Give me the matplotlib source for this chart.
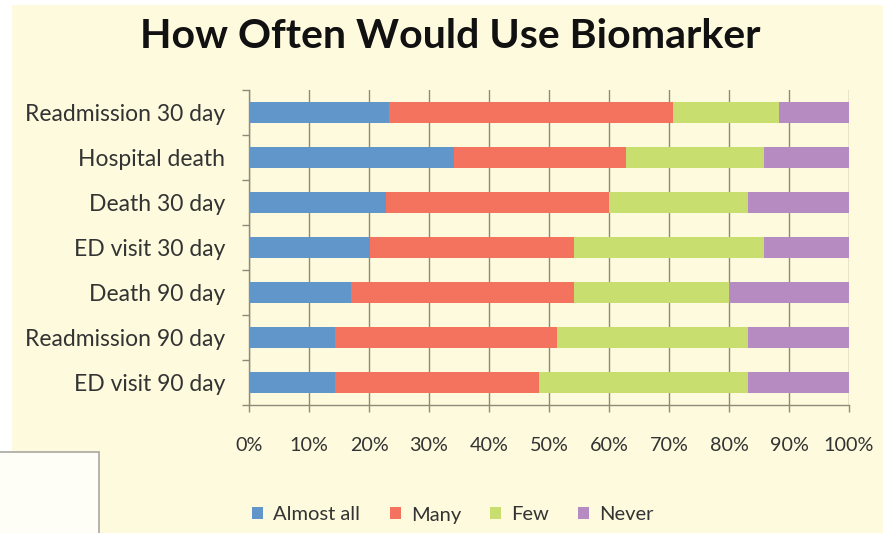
import matplotlib
matplotlib.use("Agg")
import matplotlib.pyplot as plt
from matplotlib.patches import Rectangle
from matplotlib.ticker import FixedLocator, PercentFormatter
import numpy as np

categories = ["Readmission 30 day", "Hospital death", "Death 30 day", "ED visit 30 day",
              "Death 90 day", "Readmission 90 day", "ED visit 90 day"]
series_names = ["Almost all", "Many", "Few", "Never"]
almost_all = [23.3, 34.2, 22.8, 20.1, 17.0, 14.3, 14.3]
many = [47.3, 28.7, 37.2, 34.1, 37.2, 37.0, 34.0]
few = [17.8, 23.0, 23.1, 31.7, 25.8, 31.8, 34.8]
never = [11.6, 14.1, 16.9, 14.1, 20.0, 16.9, 16.9]
x_ticks = [0, 10, 20, 30, 40, 50, 60, 70, 80, 90, 100]
colors = ["#6196CB", "#F4735F", "#C8DE6E", "#B68BC2"]

plt.rcParams['font.family'] = ['Lato', 'DejaVu Sans']
fig = plt.figure(figsize=(8.83, 5.33), dpi=100, facecolor="white")
bg = "#FDFADD"
fig.patches.append(Rectangle((12/883, 0), 1 - 12/883, (533-5)/533, transform=fig.transFigure,
                             facecolor=bg, edgecolor="none", zorder=-10))
fig.patches.append(Rectangle((-0.01, -0.01), 0.01 + 99/883, 0.01 + (533-452)/533, transform=fig.transFigure,
                             facecolor="#FFFEF6", edgecolor="#A8A8A0", linewidth=1.2, zorder=-5))

ax = fig.add_axes([249/883, (533-405)/533, (849-249)/883, (405-90)/533])
ax.set_zorder(5)
ax.patch.set_alpha(0)

y = np.arange(len(categories))
left = np.zeros(len(categories))
for name, vals, c in zip(series_names, [almost_all, many, few, never], colors):
    vals = np.array(vals)
    ax.barh(y, vals, left=left, height=0.45, color=c, edgecolor="none", label=name, zorder=3)
    left += vals

ax.set_xlim(0, 100)
ax.set_ylim(len(categories) - 0.5, -0.5)
ax.xaxis.set_major_locator(FixedLocator(x_ticks))
ax.xaxis.set_major_formatter(PercentFormatter(decimals=0))
ax.grid(axis="x", color="#8E8A78", linewidth=1.0, zorder=1)
ax.set_axisbelow(True)
ax.set_yticks(y)
ax.set_yticklabels(categories)
ax.yaxis.set_minor_locator(FixedLocator(np.arange(-0.5, len(categories), 1.0)))
ax.tick_params(axis="y", which="major", length=0, pad=17, labelsize=16.5, labelcolor="#333333")
ax.tick_params(axis="y", which="minor", length=5, color="#8E8A78", width=1)
ax.tick_params(axis="x", length=5, color="#8E8A78", width=1, pad=18, labelsize=14.2, labelcolor="#333333")
for s in ["top", "right"]:
    ax.spines[s].set_visible(False)
for s in ["left", "bottom"]:
    ax.spines[s].set_color("#8E8A78")
    ax.spines[s].set_linewidth(1.0)

fig.text(450/883, 1 - 36/533, "How Often Would Use Biomarker", ha="center", va="center",
         fontsize=29.5, fontweight="bold", color="#111111")

leg = fig.legend(loc="center", bbox_to_anchor=(453/883, 1 - 515/533), ncol=4, frameon=False,
                 fontsize=14.5, handlelength=0.55, handleheight=0.55, handletextpad=0.5,
                 columnspacing=1.45)
for t in leg.get_texts():
    t.set_color("#333333")

fig.savefig("out.png", dpi=100, facecolor=fig.get_facecolor())
